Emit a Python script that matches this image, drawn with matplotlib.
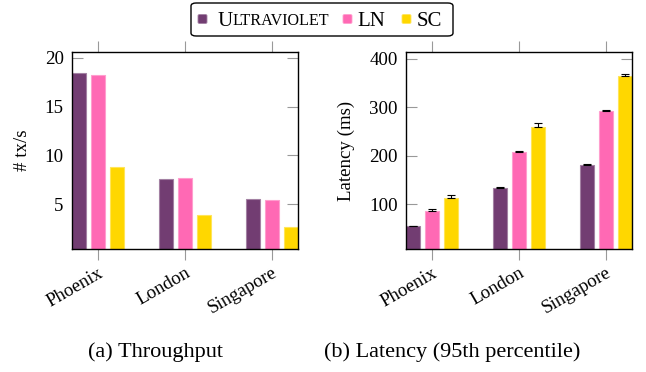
import numpy as np
import matplotlib.pyplot as plt
from matplotlib.patches import FancyBboxPatch
from matplotlib.colors import to_rgb

# --------------------------------------------------------------
# Data
# --------------------------------------------------------------
cities = ["Phoenix", "London", "Singapore"]
series = ["Ultraviolet", "LN", "SC"]
colors = ["#723D72", "#FF69B4", "#FFD700"]

throughput_uv = [18.4, 7.6, 5.5]
throughput_ln = [18.2, 7.7, 5.4]
throughput_sc = [8.8, 3.85, 2.7]

latency_uv = [55, 134, 182]
latency_ln = [87, 207, 293]
latency_sc = [114, 259, 364]
latency_uv_err = [1, 1.5, 1]
latency_ln_err = [3, 2, 1]
latency_sc_err = [5, 8, 4]

# --------------------------------------------------------------
# Style
# --------------------------------------------------------------
plt.rcParams["font.family"] = ["Liberation Serif", "DejaVu Serif"]
plt.rcParams["font.size"] = 13.6


def lighten(c, amt=0.35):
    r, g, b = to_rgb(c)
    return (r + (1 - r) * amt, g + (1 - g) * amt, b + (1 - b) * amt)


W, H = 646, 372
fig = plt.figure(figsize=(6.46, 3.72), dpi=100)
ax1 = fig.add_axes([72 / W, 123 / H, 226 / W, 197 / H])
ax2 = fig.add_axes([406 / W, 123 / H, 226 / W, 197 / H])

x = np.arange(len(cities))
off = 0.218
w = 0.165


def style_axes(ax, ylim, yticks):
    ax.set_xlim(-0.3, 2.3)
    ax.set_ylim(*ylim)
    ax.set_yticks(yticks)
    ax.set_xticks(x)
    ax.set_xticklabels(cities, rotation=30, ha="right", rotation_mode="anchor")
    ax.tick_params(axis="x", direction="out", length=8, color="#999999",
                   top=True, pad=3)
    ax.tick_params(axis="y", direction="in", length=8, color="#999999",
                   right=True, pad=6)
    for s in ax.spines.values():
        s.set_linewidth(1.0)


vals1 = [throughput_uv, throughput_ln, throughput_sc]
for i, v in enumerate(vals1):
    ax1.bar(x + (i - 1) * off, v, w, color=colors[i],
            edgecolor=lighten(colors[i]), linewidth=0.8, zorder=2)
style_axes(ax1, (0.4, 20.6), [5, 10, 15, 20])
ax1.set_ylabel("# tx/s", labelpad=10)

vals2 = [latency_uv, latency_ln, latency_sc]
errs2 = [latency_uv_err, latency_ln_err, latency_sc_err]
for i, (v, e) in enumerate(zip(vals2, errs2)):
    ax2.bar(x + (i - 1) * off, v, w, color=colors[i],
            edgecolor=lighten(colors[i]), linewidth=0.8, zorder=2)
    ax2.errorbar(x + (i - 1) * off, v, yerr=[np.zeros(len(e)), e], fmt="none",
                 ecolor="black", elinewidth=0.8, capsize=2.6, capthick=0.8,
                 zorder=3)
style_axes(ax2, (8, 414), [100, 200, 300, 400])
ax2.set_ylabel("Latency (ms)", labelpad=10)

# captions
fig.text(155 / W, 1 - 352 / H, "(a) Throughput", ha="center",
         va="center", fontsize=16)
fig.text(452 / W, 1 - 352 / H, "(b) Latency (95th percentile)",
         ha="center", va="center", fontsize=16)

# --------------------------------------------------------------
# Legend (drawn by hand for the small caps label)
# --------------------------------------------------------------
box = FancyBboxPatch((191 / W, 1 - 36 / H), 262 / W, 33 / H,
                     boxstyle="round,pad=0,rounding_size=0.008",
                     transform=fig.transFigure, facecolor="white",
                     edgecolor="black", linewidth=1.0, zorder=5)
fig.patches.append(box)

yc = 1 - 19 / H
marker_x = [198, 343, 402]
for mx, c in zip(marker_x, colors):
    fig.patches.append(FancyBboxPatch((mx / W, yc - 4.5 / H), 9 / W, 9 / H,
                       boxstyle="round,pad=0,rounding_size=0.003",
                       transform=fig.transFigure, facecolor=c,
                       edgecolor=lighten(c), linewidth=0.6, zorder=6))

u = fig.text(217 / W, yc, "U", ha="left", va="center_baseline", fontsize=15,
             zorder=7)
fig.canvas.draw()
u_end = u.get_window_extent().x1 / W
fig.text(u_end + 0.5 / W, yc, "LTRAVIOLET", ha="left", va="center_baseline",
         fontsize=11.6, zorder=7)
fig.text(357 / W, yc, "LN", ha="left", va="center_baseline", fontsize=15,
         zorder=7)
fig.text(417 / W, yc, "SC", ha="left", va="center_baseline", fontsize=15,
         zorder=7)

fig.savefig("out.png", dpi=100)
